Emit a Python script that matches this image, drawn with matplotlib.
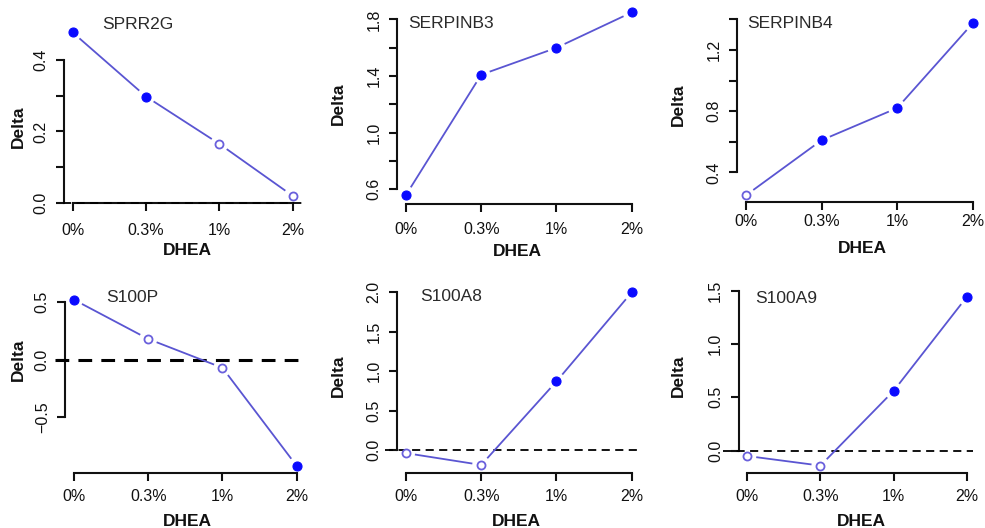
import numpy as np
import matplotlib
matplotlib.use("Agg")
import matplotlib.pyplot as plt

plt.rcParams["font.family"] = ["Liberation Sans", "DejaVu Sans"]

# ---- data -------------------------------------------------------------
doses = ["0%", "0.3%", "1%", "2%"]
genes = ["SPRR2G", "SERPINB3", "SERPINB4", "S100P", "S100A8", "S100A9"]

sprr2g = [0.478, 0.298, 0.165, 0.019]
serpinb3 = [0.56, 1.41, 1.60, 1.85]
serpinb4 = [0.25, 0.61, 0.82, 1.374]
s100p = [0.52, 0.18, -0.07, -0.92]
s100a8 = [-0.04, -0.19, 0.87, 2.00]
s100a9 = [-0.05, -0.14, 0.56, 1.44]

# significant points are drawn filled, the rest open
sprr2g_sig = [True, True, False, False]
serpinb3_sig = [True, True, True, True]
serpinb4_sig = [False, True, True, True]
s100p_sig = [True, False, False, True]
s100a8_sig = [False, False, True, True]
s100a9_sig = [False, False, True, True]

values = [sprr2g, serpinb3, serpinb4, s100p, s100a8, s100a9]
signif = [sprr2g_sig, serpinb3_sig, serpinb4_sig, s100p_sig, s100a8_sig, s100a9_sig]

# y ticks (all drawn) and the subset that carries a label
yticks = [
    [0.0, 0.1, 0.2, 0.3, 0.4],
    [0.6, 0.8, 1.0, 1.2, 1.4, 1.6, 1.8],
    [0.4, 0.6, 0.8, 1.0, 1.2, 1.4],
    [-0.5, 0.0, 0.5],
    [0.0, 0.5, 1.0, 1.5, 2.0],
    [0.0, 0.5, 1.0, 1.5],
]
ylabeled = [
    [0.0, 0.2, 0.4],
    [0.6, 1.0, 1.4, 1.8],
    [0.4, 0.8, 1.2],
    [-0.5, 0.0, 0.5],
    [0.0, 0.5, 1.0, 1.5, 2.0],
    [0.0, 0.5, 1.0, 1.5],
]

# ---- layout (pixels) ---------------------------------------------------
W, H, DPI = 985, 528, 100
# pixel x of first / last dose tick
xtick_px = [(72.7, 292.7), (406, 631.7), (746, 972.7),
            (74, 296.7), (406, 631.7), (747.3, 966.7)]
# x-axis line pixel y and vertical scale (px per unit)
bottom_px = [203, 204, 201.7, 473.3, 473.3, 473.3]
yscale = [356, 141.5, 153, 115.4, 78.8, 106.7]
ylims = [(-0.001, 0.496), (0.496, 1.90), (0.208, 1.42),
         (-0.984, 0.578), (-0.296, 2.088), (-0.212, 1.503)]
xlabel_pad = [8.6, 7.2, 3.0, 5.0, 5.0, 5.0]
# horizontal zero reference: panel -> (x start, x end) in dose units
zero_span = {0: (0.868, 4.14), 3: (0.744, 4.085), 4: (0.72, 4.09), 5: (0.668, 4.086)}
zero_lw = {0: 1.3, 3: 2.2, 4: 1.3, 5: 1.3}
title_pos = [(101.7, 24.3), (408, 23), (747.3, 24), (106, 297.7), (420, 296.7), (755, 298.5)]
ylab_pos = [(18, 127), (338, 104), (678, 105), (18, 359.7), (338, 375.7), (678, 375.7)]
xlab_pos = [(187.3, 255), (517, 255.5), (862.7, 253), (187.3, 526), (516.7, 526), (861.7, 526)]

XLIM = (0.88, 4.12)
LINE_C = "#5a55d2"
OPEN_C = "#6a60dc"
FILL_C = "#0a0aff"
GAP = 9.0  # px of empty line around every point

fig = plt.figure(figsize=(W / DPI, H / DPI), dpi=DPI)


def fx(px):
    return px / W


def fy(py):
    return 1 - py / H


xs = np.arange(1, len(doses) + 1)

for i, (vals, sig) in enumerate(zip(values, signif)):
    p1, p4 = xtick_px[i]
    s = (p4 - p1) / 3.0
    left = p1 - (1 - XLIM[0]) * s
    right = p4 + (XLIM[1] - 4) * s
    lo, hi = ylims[i]
    bot = bottom_px[i]
    top = bot - (hi - lo) * yscale[i]
    ax = fig.add_axes([fx(left), fy(bot), (right - left) / W, (bot - top) / H])
    ax.set_xlim(*XLIM)
    ax.set_ylim(lo, hi)
    ax.patch.set_visible(False)

    for side in ("top", "right"):
        ax.spines[side].set_visible(False)
    for side in ("left", "bottom"):
        ax.spines[side].set_linewidth(1.5)
        ax.spines[side].set_color("#111111")
    ax.spines["bottom"].set_bounds(1, 4)
    ax.spines["left"].set_bounds(yticks[i][0], yticks[i][-1])

    ax.set_xticks(xs)
    ax.set_xticklabels(doses)
    ax.set_yticks(yticks[i])
    ax.set_yticklabels([("%.1f" % t).replace("-", "\u2212") if t in ylabeled[i] else ""
                        for t in yticks[i]])
    ax.tick_params(axis="both", direction="out", length=6, width=1.5,
                   color="#111111", labelsize=11.5, labelcolor="#111111")
    ax.tick_params(axis="x", pad=xlabel_pad[i])
    ax.tick_params(axis="y", pad=5)
    for lab in ax.get_yticklabels():
        lab.set_rotation(90)
        lab.set_va("center")
        lab.set_ha("right")

    if i in zero_span:
        a, b = zero_span[i]
        ax.plot([a, b], [0, 0], color="black", lw=zero_lw[i],
                dashes=(4.5, 3.0), clip_on=False, zorder=3)

    # connecting segments, shortened at both ends (R "type='b'" look)
    to_disp = ax.transData
    inv = ax.transData.inverted()
    for k in range(len(vals) - 1):
        p0 = np.array(to_disp.transform((xs[k], vals[k])))
        q0 = np.array(to_disp.transform((xs[k + 1], vals[k + 1])))
        d = q0 - p0
        L = np.hypot(*d)
        u = d / L
        a_ = inv.transform(p0 + u * GAP)
        b_ = inv.transform(q0 - u * GAP)
        ax.plot([a_[0], b_[0]], [a_[1], b_[1]], color=LINE_C, lw=1.3,
                solid_capstyle="butt", clip_on=False, zorder=3)

    for k in range(len(vals)):
        if sig[k]:
            ax.plot(xs[k], vals[k], "o", ms=6.5, mfc=FILL_C, mec=FILL_C,
                    mew=0.8, clip_on=False, zorder=4)
        else:
            ax.plot(xs[k], vals[k], "o", ms=5.8, mfc="white", mec=OPEN_C,
                    mew=1.3, clip_on=False, zorder=4)

    tx, ty = title_pos[i]
    fig.text(fx(tx), fy(ty), genes[i], ha="left", va="center",
             fontsize=12.5, color="#2a2a2a")
    lx, ly = ylab_pos[i]
    fig.text(fx(lx), fy(ly), "Delta", rotation=90, ha="center", va="center",
             fontsize=12.5, fontweight="bold", color="#111111")
    dx, dy = xlab_pos[i]
    fig.text(fx(dx), fy(dy), "DHEA", ha="center", va="baseline",
             fontsize=12.5, fontweight="bold", color="#111111")

fig.savefig("out.png", dpi=DPI, facecolor="white")
